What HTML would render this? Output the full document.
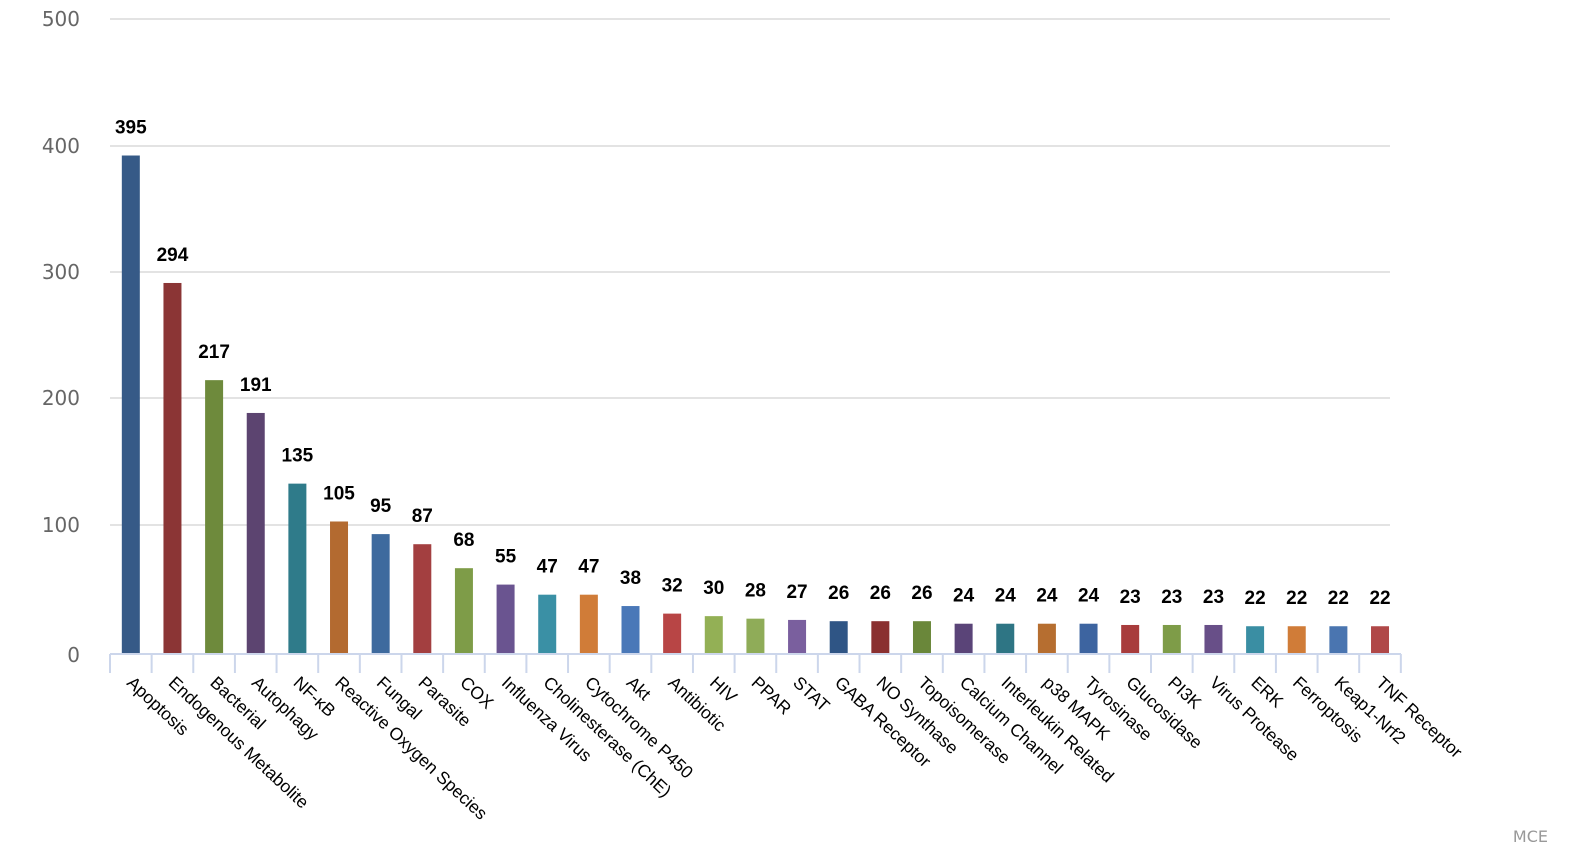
<!DOCTYPE html>
<html><head><meta charset="utf-8"><style>
body{margin:0;background:#fff;}
svg{display:block;font-family:"Liberation Sans",Arial,sans-serif;}
</style></head><body>
<svg width="1580" height="860" viewBox="0 0 1580 860">
<g stroke="#e3e3e3" stroke-width="2">
<line x1="110" x2="1390" y1="19" y2="19"/>
<line x1="110" x2="1390" y1="146" y2="146"/>
<line x1="110" x2="1390" y1="272" y2="272"/>
<line x1="110" x2="1390" y1="398" y2="398"/>
<line x1="110" x2="1390" y1="525" y2="525"/>
</g>
<g fill="#666" font-size="20" text-anchor="end" font-family="DejaVu Sans, sans-serif">
<text x="80" y="26">500</text>
<text x="80" y="153">400</text>
<text x="80" y="279">300</text>
<text x="80" y="405">200</text>
<text x="80" y="532">100</text>
<text x="80" y="662">0</text>
</g>
<g id="bars"></g>
<line x1="110" x2="1401" y1="654" y2="654" stroke="#ccd6eb" stroke-width="2"/>
<g id="ticks" stroke="#ccd6eb" stroke-width="2"></g>
<g id="vals" font-size="19" font-weight="bold" text-anchor="middle" fill="#000"></g>
<g id="labs" font-size="17.5" fill="#000"></g>
<text x="1548" y="842" fill="#999" font-size="16" text-anchor="end" font-family="DejaVu Sans, sans-serif">MCE</text>
</svg>
<script>
var d=[["Apoptosis",395,"#365a87"],["Endogenous Metabolite",294,"#8b3535"],["Bacterial",217,"#6e8a3c"],["Autophagy",191,"#5c4470"],["NF-κB",135,"#2f7b8a"],["Reactive Oxygen Species",105,"#b36a30"],["Fungal",95,"#3e6a9e"],["Parasite",87,"#a33f40"],["COX",68,"#7e9c48"],["Influenza Virus",55,"#6a5490"],["Cholinesterase (ChE)",47,"#3a90a5"],["Cytochrome P450",47,"#d07c38"],["Akt",38,"#4a78b8"],["Antibiotic",32,"#b84545"],["HIV",30,"#93b055"],["PPAR",28,"#8fac58"],["STAT",27,"#7a5f9e"],["GABA Receptor",26,"#2f5585"],["NO Synthase",26,"#8a3030"],["Topoisomerase",26,"#6a873a"],["Calcium Channel",24,"#5a4478"],["Interleukin Related",24,"#2e7584"],["p38 MAPK",24,"#b66e30"],["Tyrosinase",24,"#3d64a0"],["Glucosidase",23,"#a83c3c"],["PI3K",23,"#7e9c48"],["Virus Protease",23,"#684f88"],["ERK",22,"#3a8ea3"],["Ferroptosis",22,"#d07c38"],["Keap1-Nrf2",22,"#4a75b0"],["TNF Receptor",22,"#b04848"]];
var ns="http://www.w3.org/2000/svg",s=41.64,k=1.262;
function el(t,a,p,txt){var e=document.createElementNS(ns,t);for(var i in a)e.setAttribute(i,a[i]);if(txt)e.textContent=txt;document.getElementById(p).appendChild(e);}
for(var i=0;i<=31;i++)el("line",{x1:110+i*s,x2:110+i*s,y1:654,y2:673},"ticks");
d.forEach(function(r,i){var c=110+s*(i+0.5),h=r[1]*k;
el("rect",{x:c-9,y:654-h,width:18,height:h,fill:r[2]},"bars");
el("text",{x:c,y:654-h-22},"vals",String(r[1]));
el("text",{x:c-5,y:684,transform:"rotate(43 "+(c-5)+" 684)"},"labs",r[0]);});
</script>
</body></html>
